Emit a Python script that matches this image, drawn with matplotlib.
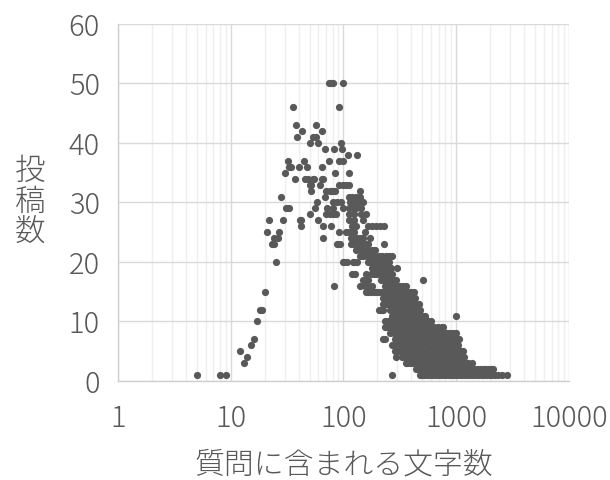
import matplotlib.pyplot as plt
from matplotlib.ticker import FixedLocator, LogLocator, NullFormatter

plt.rcParams['font.family'] = ['Noto Sans CJK JP', 'DejaVu Sans']
plt.rcParams['font.weight'] = 'light'

# 投稿数 (y) ごとに、質問の文字数 (x) を並べたもの
posts = [50, 46, 43, 42, 41, 40, 39, 38, 37, 36, 35, 34, 33, 32, 31, 30, 29, 28, 27, 26,
         25, 24, 23, 22, 21, 20, 19, 18, 17, 16, 15, 14, 13, 12, 11, 10, 9, 8, 7, 6, 5, 4, 3, 2, 1]

chars = [
    [74, 78, 81, 98],
    [36, 92],
    [38, 57],
    [43, 64],
    [39, 54, 57],
    [50, 60, 96],
    [69, 83, 97],
    [110, 133],
    [32, 45, 74, 91, 98],
    [33, 34, 40, 47, 64],
    [30, 84, 111],
    [37, 46, 48, 54, 55, 64, 66],
    [50, 52, 62, 92, 99, 106, 113],
    [52, 70, 76, 78, 81, 84, 139],
    [28, 68, 113, 120, 128, 139],
    [58, 81, 87, 96, 115, 121, 135, 149],
    [31, 33, 56, 72, 81, 99, 113, 121, 130, 144],
    [50, 70, 76, 81, 86, 113, 123, 144, 157],
    [22, 29, 41, 42, 60, 113, 123, 150],
    [42, 66, 78, 118, 128, 166, 180, 195, 210, 227],
    [21, 27, 92, 106, 113, 125, 154],
    [24, 26, 66, 117, 125, 132, 140, 150, 172],
    [23, 24, 87, 93, 116, 124, 135, 145, 156, 165, 230],
    [130, 140, 149, 158, 166, 179, 190],
    [141, 150, 160, 170, 180, 192, 205, 220, 240, 255, 268],
    [25, 99, 102, 107, 121, 125, 131, 165, 175, 185, 195, 205, 215, 228, 240, 255],
    [180, 190, 200, 212, 224, 236, 250, 264, 300],
    [120, 126, 158, 175, 188, 200, 210, 222, 235, 248, 262, 272],
    [150, 165, 215, 230, 245, 260, 275, 290, 510],
    [83, 140, 156, 165, 180, 235, 250, 265, 280, 300, 320, 340, 362],
    [20, 158, 166, 175, 185, 195, 206, 218, 230, 245, 260, 275, 290, 305, 322, 340, 358,
     377, 400, 422],
    [225, 240, 255, 270, 285, 300, 315, 330, 348, 366, 385, 405, 430],
    [225, 237, 250, 265, 280, 295, 310, 326, 343, 360, 380, 400, 420, 440, 468],
    [18, 19, 205, 214, 225, 260, 275, 290, 305, 320, 337, 355, 373, 392, 412, 432, 455, 480],
    [270, 285, 300, 316, 333, 350, 368, 387, 407, 428, 450, 474, 500, 526, 1000],
    [17, 235, 250, 265, 280, 296, 312, 329, 347, 366, 385, 405, 427, 450, 474, 500, 526,
     566, 600],
    [233, 240, 250, 265, 282, 300, 318, 337, 357, 378, 400, 424, 449, 475, 503, 533, 565,
     600, 640, 690, 740, 770],
    [260, 278, 296, 315, 335, 356, 378, 402, 427, 454, 483, 513, 545, 580, 613, 650, 690,
     735, 780, 830, 880, 940, 1000],
    [16, 225, 232, 285, 302, 320, 340, 360, 382, 405, 430, 456, 484, 513, 545, 578, 613,
     650, 690, 732, 777, 824, 875, 930, 1000, 1060],
    [15, 267, 285, 305, 325, 347, 370, 395, 421, 449, 479, 511, 545, 581, 620, 661, 705,
     752, 802, 855, 912, 970, 1030],
    [12, 286, 305, 326, 348, 371, 396, 422, 450, 480, 512, 546, 582, 621, 662, 706, 753,
     803, 856, 913, 975, 1040, 1110, 1150],
    [14, 292, 330, 352, 375, 400, 427, 455, 485, 517, 551, 588, 627, 668, 712, 760, 810,
     864, 921, 982, 1050, 1120, 1180],
    [13, 362, 367, 390, 415, 442, 470, 500, 532, 566, 603, 641, 682, 726, 773, 823, 876,
     932, 992, 1056, 1124, 1196, 1270, 1367],
    [444, 460, 490, 520, 552, 586, 622, 660, 700, 743, 789, 837, 888, 943, 1000, 1062,
     1127, 1196, 1270, 1348, 1430, 1518, 1612, 1711, 1816, 1928, 2040, 2125],
    [5, 8, 9, 270, 475, 492, 520, 550, 582, 615, 650, 688, 727, 769, 813, 860, 909, 961,
     1016, 1074, 1136, 1201, 1270, 1342, 1419, 1500, 1586, 1677, 1773, 1874, 1981, 2095,
     2215, 2340, 2523, 2795],
]

xs = []
ys = []
for p, row in zip(posts, chars):
    xs += row
    ys += [p] * len(row)

text_color = '#595959'

fig = plt.figure(figsize=(6.1, 4.8), dpi=100)
ax = fig.add_axes([0.1934, 0.2063, 0.7394, 0.7437])

ax.scatter(xs, ys, s=27, color='#595959', linewidths=0, zorder=3)

ax.set_xscale('log')
ax.set_xlim(1, 10000)
ax.set_ylim(0, 60)
ax.yaxis.set_major_locator(FixedLocator([0, 10, 20, 30, 40, 50, 60]))
ax.xaxis.set_major_locator(FixedLocator([1, 10, 100, 1000, 10000]))
ax.set_xticklabels(['1', '10', '100', '1000', '10000'])
ax.xaxis.set_minor_locator(LogLocator(base=10, subs=range(2, 10)))
ax.xaxis.set_minor_formatter(NullFormatter())

ax.grid(True, which='major', color='#d9d9d9', linewidth=1.0, zorder=0)
ax.grid(True, which='minor', axis='x', color='#efefef', linewidth=1.0, zorder=0)
ax.set_axisbelow(True)

for side in ['top', 'right']:
    ax.spines[side].set_visible(False)
for side in ['left', 'bottom']:
    ax.spines[side].set_color('#d0d0d0')
    ax.spines[side].set_linewidth(1.0)

ax.tick_params(which='both', length=0, colors=text_color, labelsize=21)
ax.tick_params(axis='y', pad=13)
ax.tick_params(axis='x', pad=16)

fig.text(0.049, 0.58, '投\n稿\n数', color=text_color, fontsize=22,
         ha='center', va='center', linespacing=0.95)
fig.text(0.563, 0.03, '質問に含まれる文字数', color=text_color, fontsize=21.5,
         ha='center', va='center')

fig.savefig('out.png', dpi=100)
